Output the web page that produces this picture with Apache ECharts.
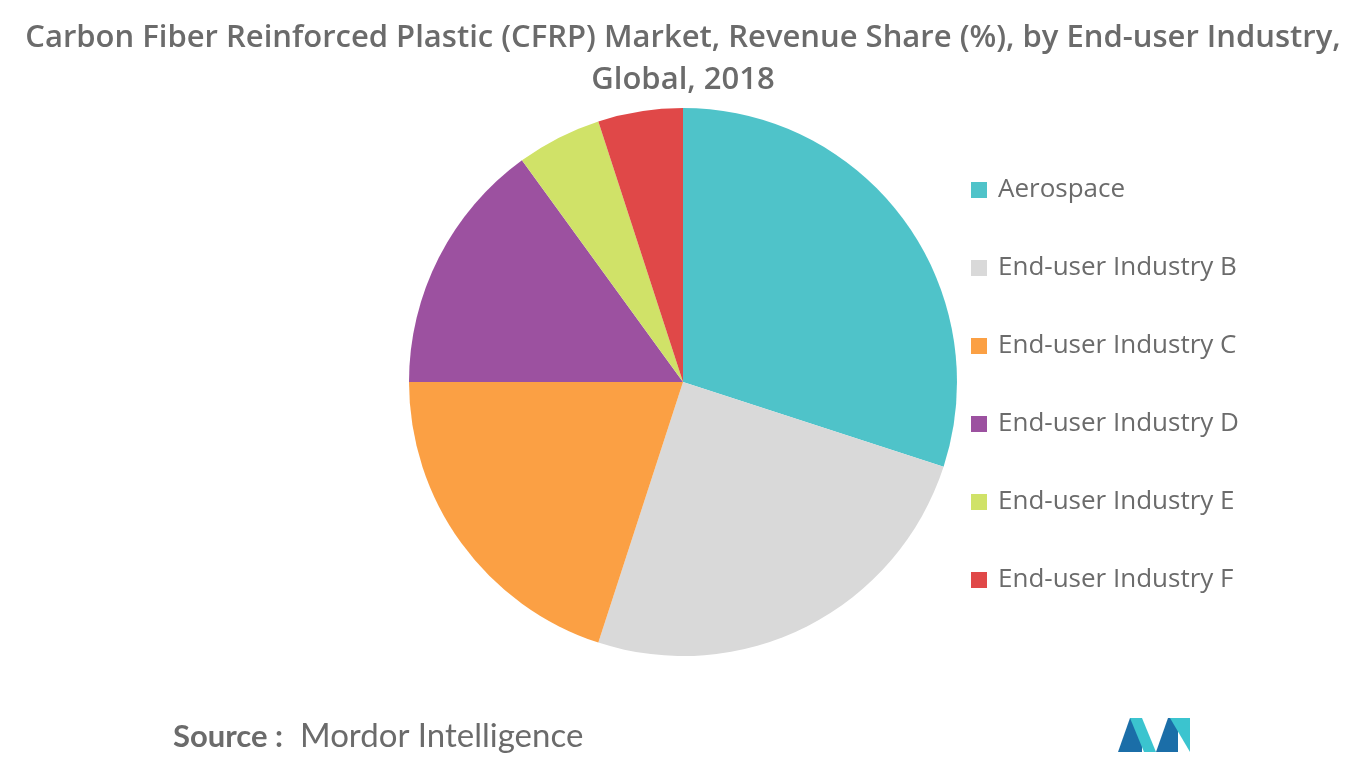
<!DOCTYPE html>
<html><head><meta charset="utf-8">
<script src="https://cdn.jsdelivr.net/npm/echarts@6/dist/echarts.min.js"></script>
<style>html,body{margin:0;padding:0;background:#fff}#c{width:1366px;height:768px}</style>
</head><body><div id="c"></div>
<script>
const categories = ["Aerospace","End-user Industry B","End-user Industry C","End-user Industry D","End-user Industry E","End-user Industry F"];
const shares = [30,25,20,15,5,5];
const colors = ["#4fc3c9","#d9d9d9","#fba044","#9c51a0","#d0e268","#e04848"];
const chart = echarts.init(document.getElementById('c'));
chart.setOption({
  animation:false,
  color: colors,
  title:{text:"Carbon Fiber Reinforced Plastic (CFRP) Market, Revenue Share (%), by End-user Industry,\nGlobal, 2018",
    left:'center', top:12, textStyle:{fontFamily:'Open Sans',fontSize:31,fontWeight:600,color:'#6b6b6b',lineHeight:42}},
  legend:{orient:'vertical', left:966, top:172, itemGap:52, itemWidth:16, itemHeight:16, icon:'rect',
    textStyle:{fontFamily:'Open Sans',fontSize:26,color:'#6b6b6b',padding:[0,0,0,6]}, data:categories},
  series:[{type:'pie', center:[683,382], radius:274, startAngle:90, clockwise:true,
    label:{show:false}, labelLine:{show:false}, emphasis:{disabled:true},
    data:categories.map((n,i)=>({name:n,value:shares[i]}))}],
  graphic:[
    {type:'text', left:173, top:721, style:{text:'Source :', font:'bold 31px Lato', fill:'#6b6b6b'}},
    {type:'text', left:300, top:720, style:{text:'Mordor Intelligence', font:'33px Lato', fill:'#6b6b6b'}},
    {type:'polygon', shape:{points:[[1118,752],[1130,718],[1142,718],[1142,752]]}, style:{fill:'#1b6ea8'}},
    {type:'polygon', shape:{points:[[1130,718],[1142,718],[1156,752],[1144,752]]}, style:{fill:'#3bc4cf'}},
    {type:'polygon', shape:{points:[[1156,752],[1168,718],[1178,718],[1178,752]]}, style:{fill:'#1b6ea8'}},
    {type:'polygon', shape:{points:[[1170,718],[1190,718],[1190,752]]}, style:{fill:'#3bc4cf'}}
  ]
});
</script></body></html>
